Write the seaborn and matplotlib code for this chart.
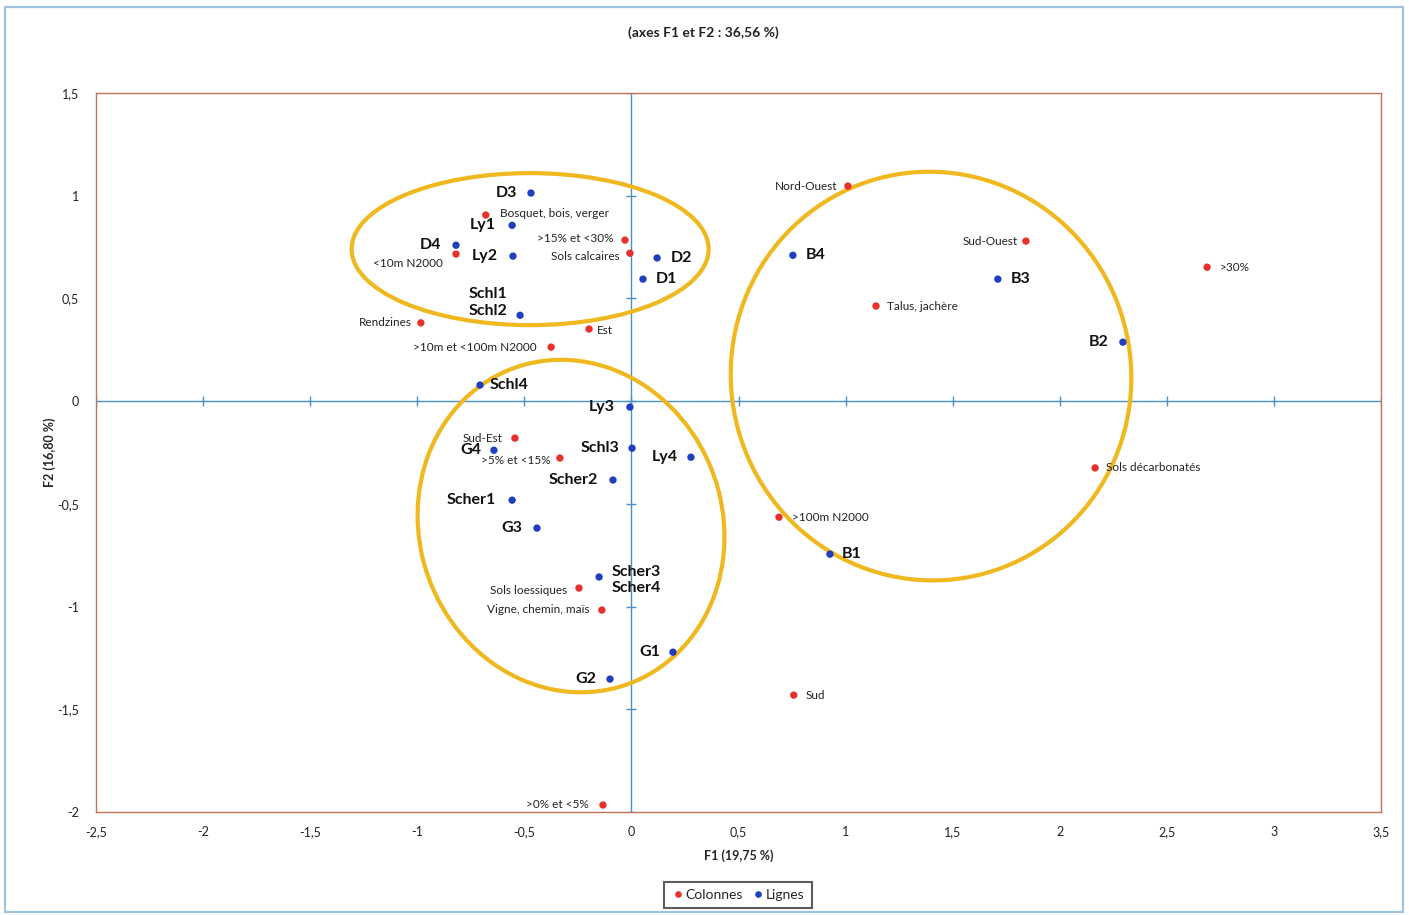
import matplotlib
matplotlib.use("Agg")
import matplotlib.pyplot as plt
from matplotlib.patches import Ellipse, Rectangle
import numpy as np
import pandas as pd
import seaborn as sns

# --- data (F1 / F2 coordinates) ---
lignes_names = ["D3", "Ly1", "D4", "Ly2", "D2", "D1", "Schl1\nSchl2", "Schl4", "Ly3", "Schl3",
                "G4", "Ly4", "Scher2", "Scher1", "G3", "Scher3\nScher4", "G1", "G2",
                "B4", "B3", "B2", "B1"]
lignes_f1 = [-0.469, -0.557, -0.819, -0.553, 0.120, 0.054, -0.520, -0.707, -0.007, 0.003,
             -0.642, 0.278, -0.086, -0.557, -0.441, -0.151, 0.194, -0.100,
             0.754, 1.711, 2.295, 0.927]
lignes_f2 = [1.013, 0.856, 0.759, 0.706, 0.697, 0.594, 0.418, 0.078, -0.029, -0.229,
             -0.239, -0.273, -0.384, -0.482, -0.618, -0.856, -1.222, -1.353,
             0.710, 0.594, 0.287, -0.745]

colonnes_names = ["Bosquet, bois, verger", ">15% et <30%", "Sols calcaires", "<10m N2000",
                  "Rendzines", "Est", ">10m et <100m N2000", "Nord-Ouest", "Sud-Ouest", ">30%",
                  "Talus, jachère", "Sud-Est", ">5% et <15%", "Sols décarbonatés", ">100m N2000",
                  "Sols loessiques", "Vigne, chemin, maïs", "Sud", ">0% et <5%"]
colonnes_f1 = [-0.680, -0.030, -0.007, -0.819, -0.983, -0.198, -0.375, 1.011, 1.842, 2.688,
               1.142, -0.544, -0.334, 2.165, 0.689, -0.245, -0.138, 0.758, -0.133]
colonnes_f2 = [0.906, 0.784, 0.720, 0.716, 0.381, 0.351, 0.263, 1.047, 0.779, 0.652,
               0.463, -0.180, -0.277, -0.325, -0.565, -0.910, -1.017, -1.431, -1.966]

x_ticks = np.arange(-2.5, 3.51, 0.5)
y_ticks = np.arange(-2.0, 1.51, 0.5)

# label placement (pixel offsets, alignment)
lignes_pos = {
    "D3": (-14, 0, "right"), "Ly1": (-16, 0, "right"), "D4": (-15, 0, "right"),
    "Ly2": (-15, 0, "right"), "D2": (14, 0, "left"), "D1": (13, 0, "left"),
    "Schl1\nSchl2": (-13, 13, "right"), "Schl4": (10, 0, "left"), "Ly3": (-15, 0, "right"),
    "Schl3": (-13, 0, "right"), "G4": (-13, 0, "right"), "Ly4": (-13, 0, "right"),
    "Scher2": (-15, 0, "right"), "Scher1": (-16, 0, "right"), "G3": (-15, 0, "right"),
    "Scher3\nScher4": (13, -3, "left"), "G1": (-13, 0, "right"), "G2": (-14, 0, "right"),
    "B4": (13, 0, "left"), "B3": (13, 0, "left"), "B2": (-14, 0, "right"), "B1": (12, 0, "left"),
}
colonnes_pos = {
    "Bosquet, bois, verger": (14, 2, "left"), ">15% et <30%": (-11, 2, "right"),
    "Sols calcaires": (-10, -3, "right"), "<10m N2000": (-13, -9, "right"),
    "Rendzines": (-9, 0, "right"), "Est": (8, -1, "left"),
    ">10m et <100m N2000": (-14, 0, "right"), "Nord-Ouest": (-11, 0, "right"),
    "Sud-Ouest": (-8, 0, "right"), ">30%": (13, 0, "left"), "Talus, jachère": (11, 0, "left"),
    "Sud-Est": (-12, 0, "right"), ">5% et <15%": (-9, -2, "right"),
    "Sols décarbonatés": (11, 0, "left"), ">100m N2000": (13, 0, "left"),
    "Sols loessiques": (-12, -2, "right"), "Vigne, chemin, maïs": (-12, 1, "right"),
    "Sud": (12, 0, "left"), ">0% et <5%": (-14, 1, "right"),
}

RED = "#E8302A"
BLUE = "#1F3FBF"
FONT = ["Lato", "DejaVu Sans"]

df = pd.concat([
    pd.DataFrame({"F1": colonnes_f1, "F2": colonnes_f2, "name": colonnes_names, "type": "Colonnes"}),
    pd.DataFrame({"F1": lignes_f1, "F2": lignes_f2, "name": lignes_names, "type": "Lignes"}),
], ignore_index=True)

sns.set_style("white")
plt.rcParams["font.family"] = FONT

fig = plt.figure(figsize=(14.09, 9.15), dpi=100)
ax = fig.add_axes([96 / 1409, 1 - 812 / 915, (1381 - 96) / 1409, (812 - 93) / 915])

# outer chart frame
fig.patches.append(Rectangle((5 / 1409, 3 / 915), 1398 / 1409, 905 / 915, transform=fig.transFigure,
                             fill=False, edgecolor="#9EC4E2", lw=1.6))

# axes through the origin with small ticks
ax.axhline(0, color="#4A90C8", lw=1, zorder=1)
ax.axvline(0, color="#4A90C8", lw=1, zorder=1)
ax.scatter(x_ticks, np.zeros_like(x_ticks), marker="|", s=50, color="#4A90C8", lw=1, zorder=1)
ax.scatter(np.zeros_like(y_ticks), y_ticks, marker="_", s=50, color="#4A90C8", lw=1, zorder=1)

# groups
ellipse_kw = dict(fill=False, edgecolor="#EFB81E", lw=3, zorder=2)
ax.add_patch(Ellipse((-0.473, 0.740), 1.667, 0.740, **ellipse_kw))
ax.add_patch(Ellipse((-0.282, -0.608), 1.42, 1.63, angle=14, **ellipse_kw))
ax.add_patch(Ellipse((1.399, 0.122), 1.87, 1.99, angle=4, **ellipse_kw))

sns.scatterplot(data=df, x="F1", y="F2", hue="type", palette={"Colonnes": RED, "Lignes": BLUE},
                s=28, edgecolor="none", ax=ax, zorder=3, legend=True)

for _, row in df.iterrows():
    if row["type"] == "Lignes":
        dx, dy, ha = lignes_pos[row["name"]]
        ax.annotate(row["name"], (row["F1"], row["F2"]), xytext=(dx, dy), textcoords="offset pixels",
                    ha=ha, va="center", fontsize=11.5, fontweight="bold", color="#111111",
                    linespacing=1.25, zorder=4)
    else:
        dx, dy, ha = colonnes_pos[row["name"]]
        ax.annotate(row["name"], (row["F1"], row["F2"]), xytext=(dx, dy), textcoords="offset pixels",
                    ha=ha, va="center", fontsize=8.5, color="#222222", zorder=4)

ax.set_xlim(-2.5, 3.5)
ax.set_ylim(-2, 1.5)
ax.set_xticks(x_ticks)
ax.set_yticks(y_ticks)
fmt = lambda v: f"{v:g}".replace(".", ",")
ax.set_xticklabels([fmt(v) for v in x_ticks])
ax.set_yticklabels([fmt(v) for v in y_ticks])
ax.tick_params(axis="both", length=0, labelsize=9, colors="#222222")
ax.tick_params(axis="x", pad=10)
ax.tick_params(axis="y", pad=12)
for sp in ax.spines.values():
    sp.set_color("#C4735A")
    sp.set_linewidth(1)

ax.set_xlabel("F1 (19,75 %)", fontsize=9, fontweight="bold", labelpad=8)
ax.set_ylabel("F2 (16,80 %)", fontsize=9, fontweight="bold", labelpad=1)
fig.text(703 / 1409, 1 - 33 / 915, "(axes F1 et F2 : 36,56 %)", ha="center", va="center",
         fontsize=10, fontweight="bold", color="#222222")

handles, labels = ax.get_legend_handles_labels()
ax.legend(handles, labels, loc="center", bbox_to_anchor=(738 / 1409, 1 - 895 / 915),
          bbox_transform=fig.transFigure, ncol=2, frameon=True, fancybox=False,
          edgecolor="#333333", fontsize=10, handletextpad=0.1, columnspacing=0.7,
          markerscale=0.9, borderpad=0.5, handlelength=0.9)
ax.get_legend().get_frame().set_linewidth(1.5)

fig.savefig("out.png", dpi=100)
